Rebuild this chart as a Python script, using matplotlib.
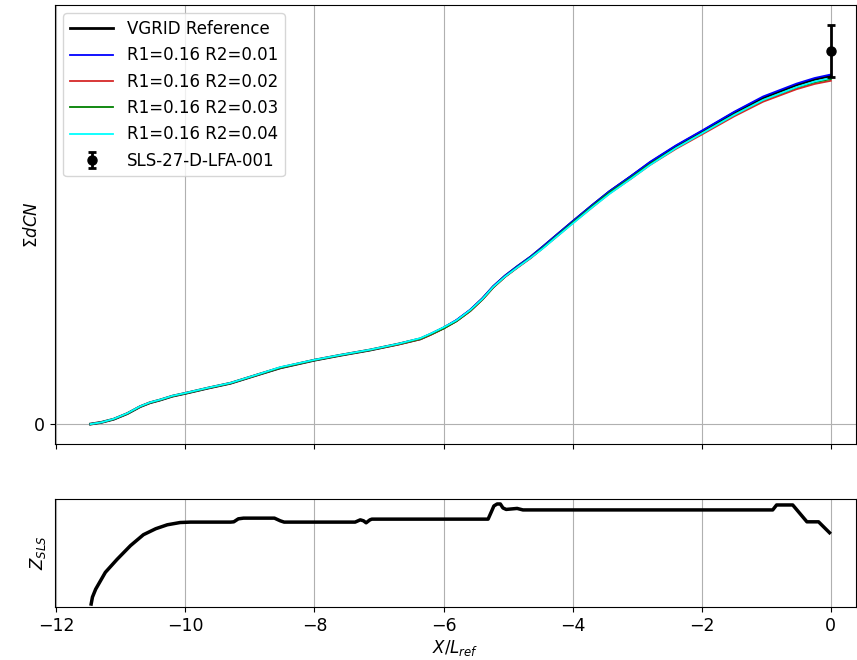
import numpy as np
import matplotlib.pyplot as plt

# sum of dCN along the body
x_cn = [-11.47, -11.3, -11.11, -10.9, -10.7, -10.55, -10.39, -10.2, -10.0, -9.65, -9.3,
        -8.9, -8.53, -8.0, -7.6, -7.14, -6.7, -6.36, -6.2, -6.0, -5.8, -5.59, -5.4,
        -5.23, -5.05, -4.86, -4.65, -4.46, -4.25, -4.0, -3.7, -3.43, -3.1, -2.8, -2.4,
        -2.0, -1.5, -1.05, -0.53, -0.25, 0.0]
cn_ref = [0.0, 0.005, 0.014, 0.030, 0.050, 0.061, 0.069, 0.080, 0.088, 0.103, 0.117,
          0.140, 0.161, 0.183, 0.197, 0.212, 0.229, 0.244, 0.257, 0.275, 0.296, 0.325, 0.358,
          0.393, 0.423, 0.450, 0.478, 0.507, 0.540, 0.579, 0.625, 0.665, 0.708, 0.748, 0.795,
          0.837, 0.891, 0.934, 0.971, 0.987, 0.997]
cn_r2_01 = [0.0, 0.005, 0.014, 0.030, 0.050, 0.061, 0.069, 0.080, 0.088, 0.103, 0.117,
            0.140, 0.161, 0.183, 0.197, 0.212, 0.229, 0.244, 0.258, 0.276, 0.298, 0.327, 0.360,
            0.395, 0.425, 0.452, 0.480, 0.509, 0.542, 0.581, 0.627, 0.667, 0.710, 0.751, 0.798,
            0.840, 0.894, 0.938, 0.975, 0.991, 1.001]
cn_r2_02 = [0.0, 0.005, 0.014, 0.030, 0.050, 0.061, 0.069, 0.080, 0.088, 0.103, 0.117,
            0.140, 0.161, 0.183, 0.197, 0.212, 0.228, 0.243, 0.256, 0.274, 0.295, 0.323, 0.356,
            0.391, 0.421, 0.447, 0.475, 0.504, 0.536, 0.575, 0.620, 0.660, 0.702, 0.742, 0.788,
            0.829, 0.881, 0.923, 0.959, 0.974, 0.983]
cn_r2_03 = [0.0, 0.005, 0.014, 0.030, 0.050, 0.061, 0.069, 0.080, 0.088, 0.103, 0.117,
            0.140, 0.161, 0.183, 0.197, 0.212, 0.229, 0.244, 0.257, 0.274, 0.295, 0.324, 0.357,
            0.392, 0.422, 0.449, 0.477, 0.505, 0.538, 0.577, 0.623, 0.663, 0.705, 0.745, 0.791,
            0.833, 0.886, 0.928, 0.964, 0.979, 0.988]
cn_r2_04 = [0.0, 0.005, 0.015, 0.031, 0.051, 0.062, 0.070, 0.081, 0.089, 0.104, 0.118,
            0.141, 0.163, 0.184, 0.198, 0.213, 0.230, 0.246, 0.259, 0.277, 0.297, 0.326, 0.358,
            0.393, 0.422, 0.448, 0.476, 0.503, 0.536, 0.574, 0.620, 0.659, 0.702, 0.742, 0.790,
            0.832, 0.885, 0.928, 0.965, 0.981, 0.991]

# wind tunnel point at the end of the body
x_exp = [0.0]
cn_exp = [1.069]
cn_err = [0.074]

# body outline
x_z = [-11.46, -11.44, -11.39, -11.24, -11.06, -10.85, -10.65, -10.46, -10.28, -10.08, -9.92,
       -9.30, -9.25, -9.18, -9.10, -8.62, -8.53, -8.47, -7.37, -7.29, -7.24, -7.20, -7.14, -7.11,
       -5.31, -5.26, -5.22, -5.17, -5.12, -5.08, -5.03, -4.86, -4.77, -0.90, -0.84, -0.59,
       -0.37, -0.19, -0.02]
z_sls = [0.02, 0.09, 0.17, 0.34, 0.47, 0.61, 0.72, 0.78, 0.82, 0.843, 0.847,
         0.847, 0.85, 0.88, 0.887, 0.887, 0.86, 0.847, 0.847, 0.87, 0.86, 0.84, 0.87, 0.877,
         0.877, 0.95, 1.01, 1.03, 1.03, 0.99, 0.975, 0.985, 0.97, 0.97, 1.02, 1.02,
         0.85, 0.85, 0.74]

fig = plt.figure(figsize=(8.57, 6.6), dpi=100)
ax1 = fig.add_axes([0.0642, 0.3273, 0.9346, 0.6651])
ax2 = fig.add_axes([0.0642, 0.0803, 0.9346, 0.1636], sharex=ax1)

ax1.plot(x_cn, cn_ref, 'k-', lw=2, label='VGRID Reference')
ax1.plot(x_cn, cn_r2_01, '-', color='blue', lw=1.3, label='R1=0.16 R2=0.01')
ax1.plot(x_cn, cn_r2_02, '-', color='tab:red', lw=1.3, label='R1=0.16 R2=0.02')
ax1.plot(x_cn, cn_r2_03, '-', color='green', lw=1.3, label='R1=0.16 R2=0.03')
ax1.plot(x_cn, cn_r2_04, '-', color='cyan', lw=1.3, label='R1=0.16 R2=0.04')
ax1.errorbar(x_exp, cn_exp, yerr=cn_err, fmt='ko', ms=6.5, elinewidth=2, capsize=3,
             capthick=2, label='SLS-27-D-LFA-001')
ax1.set_yticks([0])
ax1.set_ylim(-0.057, 1.2)
ax1.set_ylabel(r'$\Sigma dCN$', fontsize=12)
ax1.yaxis.set_label_coords(-0.0175, 0.5)
ax1.grid(True)
ax1.tick_params(labelbottom=False, labelsize=12.5)
ax1.legend(loc='upper left', fontsize=12, handlelength=2.6)

ax2.plot(x_z, z_sls, 'k-', lw=2.5)
ax2.set_yticks([])
ax2.set_ylim(-0.01, 1.08)
ax2.set_xlim(-12.02, 0.39)
ax2.set_xticks([-12, -10, -8, -6, -4, -2, 0])
ax2.grid(True, axis='x')
ax2.tick_params(labelsize=12.5)
ax2.set_ylabel(r'$Z_{SLS}$', fontsize=12)
ax2.yaxis.set_label_coords(-0.009, 0.5)
ax2.set_xlabel(r'$X/L_{ref}$', fontsize=12, labelpad=2)

plt.savefig('out.png', dpi=100)
